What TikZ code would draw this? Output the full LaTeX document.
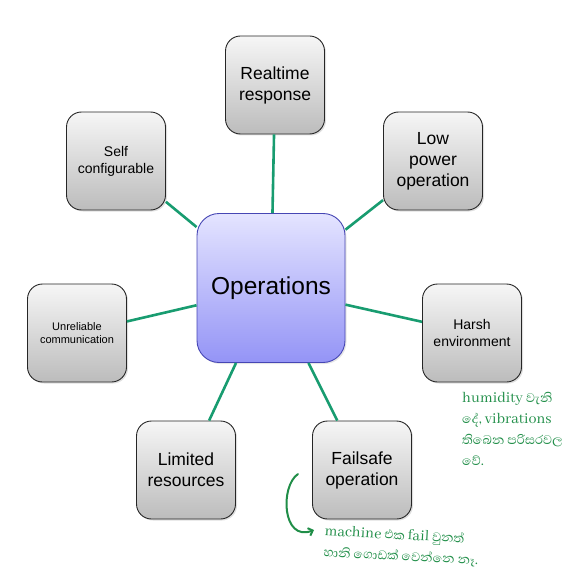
\documentclass[tikz,border=0pt]{standalone}
\usepackage{fontspec}
\setmainfont{Liberation Sans}
\newfontfamily\notefont[Script=Sinhala]{Abhaya Libre}
\usepackage{tikz}
\usetikzlibrary{arrows.meta,shadows}
\usepackage{xcolor}
\definecolor{linkgreen}{RGB}{24,156,112}
\definecolor{notegreen}{RGB}{32,142,72}
\definecolor{hubtop}{RGB}{228,228,255}
\definecolor{hubbot}{RGB}{148,148,246}
\definecolor{hubline}{RGB}{70,70,180}
\definecolor{boxtop}{RGB}{246,246,246}
\definecolor{boxbot}{RGB}{188,188,188}

\begin{document}
\begin{tikzpicture}[x=1pt, y=-1pt,
  box/.style={draw=black!85, line width=0.9pt, rounded corners=15pt,
    top color=boxtop, bottom color=boxbot, minimum width=99pt, minimum height=98pt,
    align=center, inner sep=2pt,
    drop shadow={opacity=0.25, shadow xshift=1.5pt, shadow yshift=-1.5pt}},
  hub/.style={draw=hubline, line width=0.9pt, rounded corners=22pt,
    top color=hubtop, bottom color=hubbot, minimum width=148pt, minimum height=149pt,
    align=center, drop shadow={opacity=0.2, shadow xshift=1.5pt, shadow yshift=-1.5pt}},
  link/.style={linkgreen, line width=2.6pt},
  big/.style={font=\fontsize{17.5}{21}\selectfont},
  note/.style={notegreen, font=\notefont\fontsize{16}{21}\selectfont, align=left, inner sep=0pt}]
\useasboundingbox (0,0) rectangle (585,577);
% centre
\node[hub, font=\fontsize{24.5}{29}\selectfont] (ops) at (271,288) {Operations};
% outer requirements
\node[box, big] (realtime) at (275,85) {Realtime\\response};
\node[box, big] (lowpower) at (433,161) {Low\\power\\operation};
\node[box, font=\fontsize{14}{17}\selectfont] (selfconf) at (116,161) {Self\\configurable};
\node[box, font=\fontsize{11}{13.5}\selectfont] (unreliable) at (77,333) {Unreliable\\communication};
\node[box, font=\fontsize{14}{17}\selectfont] (harsh) at (472,333) {Harsh\\environment};
\node[box, big] (limited) at (186,470) {Limited\\resources};
\node[box, big] (failsafe) at (362,470) {Failsafe\\operation};
% spokes
\foreach \n in {realtime,lowpower,selfconf,unreliable,harsh,limited,failsafe}{
  \draw[link] (ops) -- (\n);}
% handwritten notes
\node[note, anchor=north west] (harshnote) at (462,392) {humidity වැනි\\දේ, vibrations\\තිබෙන පරිසරවල\\වේ.};
\node[note, anchor=north west, rotate=-3] (failnote) at (325,525) {machine එක fail වුනත්\\හානි ගොඩක් වෙන්නෙ නෑ.};
\coordinate (hookstart) at (298,474);
\coordinate (hookend) at (314,530);
\draw[notegreen, line width=2pt, line cap=round, -{Straight Barb[length=4pt]}]
  (hookstart) .. controls (280,486) and (282,542) .. (hookend);
\end{tikzpicture}
\end{document}
